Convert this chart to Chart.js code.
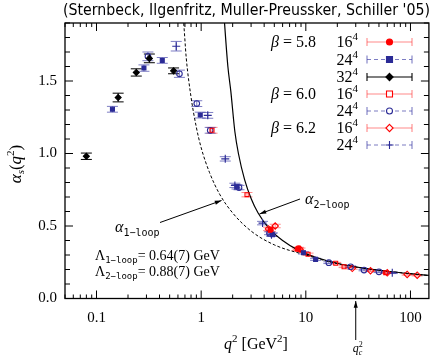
<!DOCTYPE html>
<html>
<head>
<meta charset="utf-8">
<script src="https://cdn.jsdelivr.net/npm/chart.js@4.4.0/dist/chart.umd.min.js"></script>
<style>
  html, body { margin: 0; padding: 0; background: #fff; }
  #wrap { width: 434px; height: 356px; }
</style>
</head>
<body>
<div id="wrap"><canvas id="alphaChart" width="434" height="356"></canvas></div>
<script>
// Lattice points: [q^2 (GeV^2), alpha_s, error]
const beta58L16 = [[4.6, 0.475, 0.012], [8.5, 0.345, 0.008]];
const beta58L24 = [[0.142, 1.305, 0.02], [0.284, 1.589, 0.022], [0.425, 1.642, 0.02], [0.98, 1.265, 0.02],
                   [2.2, 0.77, 0.015], [4.8, 0.44, 0.012], [9.5, 0.315, 0.008], [12.4, 0.27, 0.007]];
const beta58L32 = [[0.080, 0.981, 0.022], [0.161, 1.386, 0.03], [0.240, 1.559, 0.025], [0.32, 1.656, 0.03],
                   [0.545, 1.57, 0.02]];
const beta60L16 = [[1.27, 1.16, 0.02], [2.74, 0.716, 0.015], [8.3, 0.34, 0.008], [10.5, 0.305, 0.008],
                   [19.3, 0.243, 0.006], [23.2, 0.219, 0.006], [58, 0.178, 0.005]];
const beta60L24 = [[0.31, 1.67, 0.03], [0.62, 1.55, 0.025], [0.908, 1.344, 0.02], [1.22, 1.16, 0.02],
                   [2.3, 0.765, 0.015], [4.5, 0.45, 0.01], [16.6, 0.247, 0.006], [26.8, 0.219, 0.006],
                   [36, 0.196, 0.005], [50, 0.184, 0.005]];
const beta62L16 = [[5.1, 0.50, 0.012], [4.4, 0.48, 0.012], [8.8, 0.34, 0.008], [27.8, 0.208, 0.006],
                   [41.5, 0.191, 0.005], [60, 0.177, 0.005], [93, 0.166, 0.005], [116, 0.161, 0.005]];
const beta62L24 = [[0.578, 1.74, 0.033], [1.156, 1.263, 0.02], [1.70, 0.963, 0.015], [2.1, 0.78, 0.015],
                   [3.86, 0.52, 0.012], [4.7, 0.44, 0.01], [67, 0.177, 0.005]];

// perturbative curves
const oneLoopQ2 = [0.655, 0.678, 0.72, 0.8, 0.9, 1.0, 1.2, 1.5, 2, 3, 5, 10, 20, 50, 150];
const oneLoopAlpha = [2.0, 1.915, 1.66, 1.39, 1.18, 1.04, 0.87, 0.72, 0.59, 0.465, 0.37, 0.30, 0.24, 0.195, 0.158];
const twoLoopQ2 = [1.62, 1.667, 1.8, 1.92, 2.1, 2.27, 2.6, 3.0, 3.5, 4.5, 6, 8.6, 12, 20, 35, 60, 100, 150];
const twoLoopAlpha = [2.05, 1.915, 1.6, 1.43, 1.15, 1.0, 0.82, 0.69, 0.59, 0.48, 0.4, 0.33, 0.288, 0.243, 0.21, 0.188, 0.171, 0.159];

// axes
const xTickValues = [0.1, 1, 10, 100];
const xTickLabels = ['0.1', '1', '10', '100'];
const yTickValues = [0, 0.5, 1.0, 1.5];
const yTickLabels = ['0.0', '0.5', '1.0', '1.5'];
const qc2 = 30;

const RED = '#ff0000';
const RED_BAR = 'rgba(255, 60, 60, 0.6)';
const BLUE = '#2b2b96';
const BLUE_BAR = 'rgba(70, 70, 170, 0.7)';
const BLACK = '#000';

const SERIF = '"Liberation Serif", "DejaVu Serif", serif';
const MONO = '"DejaVu Sans Mono", "Liberation Mono", monospace';

function pts(arr) {
    return arr.map(p => ({ x: p[0], y: p[1] }));
}
function errs(arr) {
    return arr.map(p => p[2]);
}
function curve(xs, ys) {
    return xs.map((x, i) => ({ x: x, y: ys[i] }));
}

const series = [
    { data: beta58L16, style: 'circle', color: RED, fill: RED, bar: RED_BAR, r: 2.6 },
    { data: beta58L24, style: 'rect', color: BLUE, fill: BLUE, bar: BLUE_BAR, r: 2.8 },
    { data: beta58L32, style: 'rectRot', color: BLACK, fill: BLACK, bar: BLACK, r: 3 },
    { data: beta60L16, style: 'rect', color: RED, fill: 'rgba(255,255,255,0)', bar: RED_BAR, r: 2.8 },
    { data: beta60L24, style: 'circle', color: BLUE, fill: 'rgba(255,255,255,0)', bar: BLUE_BAR, r: 2.8 },
    { data: beta62L16, style: 'rectRot', color: RED, fill: 'rgba(255,255,255,0)', bar: RED_BAR, r: 3.2 },
    { data: beta62L24, style: 'cross', color: BLUE, fill: BLUE, bar: BLUE_BAR, r: 4 }
];

const datasets = series.map((s, i) => ({
    label: 'series' + i,
    data: pts(s.data),
    errors: errs(s.data),
    errColor: s.bar,
    pointStyle: s.style,
    pointRadius: s.r,
    pointBorderColor: s.color,
    pointBackgroundColor: s.fill,
    pointBorderWidth: 1.1,
    showLine: false,
    order: 1
}));

datasets.push({
    label: '1-loop',
    data: curve(oneLoopQ2, oneLoopAlpha),
    showLine: true,
    borderColor: BLACK,
    borderWidth: 1,
    borderDash: [3, 2],
    pointRadius: 0,
    cubicInterpolationMode: 'monotone',
    order: 10
});
datasets.push({
    label: '2-loop',
    data: curve(twoLoopQ2, twoLoopAlpha),
    showLine: true,
    borderColor: BLACK,
    borderWidth: 1.2,
    pointRadius: 0,
    cubicInterpolationMode: 'monotone',
    order: 10
});

// vertical error bars with caps, under the markers
const errorBars = {
    id: 'errorBars',
    beforeDatasetsDraw(chart) {
        const ctx = chart.ctx;
        const yScale = chart.scales.y;
        ctx.save();
        chart.data.datasets.forEach((ds, i) => {
            if (!ds.errors) return;
            const meta = chart.getDatasetMeta(i);
            ctx.strokeStyle = ds.errColor;
            ctx.lineWidth = 1;
            meta.data.forEach((el, j) => {
                const v = ds.data[j].y;
                const e = ds.errors[j];
                const top = yScale.getPixelForValue(v + e);
                const bot = yScale.getPixelForValue(v - e);
                const x = el.x;
                ctx.beginPath();
                ctx.moveTo(x, top); ctx.lineTo(x, bot);
                ctx.moveTo(x - 5.5, top); ctx.lineTo(x + 5.5, top);
                ctx.moveTo(x - 5.5, bot); ctx.lineTo(x + 5.5, bot);
                ctx.stroke();
            });
        });
        ctx.restore();
    }
};

function drawMarker(ctx, style, x, y, r, color, fill) {
    ctx.save();
    ctx.strokeStyle = color;
    ctx.fillStyle = fill;
    ctx.lineWidth = 1.1;
    ctx.beginPath();
    if (style === 'circle') {
        ctx.arc(x, y, r, 0, Math.PI * 2);
        ctx.fill(); ctx.stroke();
    } else if (style === 'rect') {
        ctx.rect(x - r, y - r, 2 * r, 2 * r);
        ctx.fill(); ctx.stroke();
    } else if (style === 'rectRot') {
        ctx.moveTo(x, y - r - 0.6); ctx.lineTo(x + r + 0.6, y); ctx.lineTo(x, y + r + 0.6); ctx.lineTo(x - r - 0.6, y);
        ctx.closePath();
        ctx.fill(); ctx.stroke();
    } else if (style === 'cross') {
        ctx.moveTo(x - r, y); ctx.lineTo(x + r, y);
        ctx.moveTo(x, y - r); ctx.lineTo(x, y + r);
        ctx.stroke();
    }
    ctx.restore();
}

// text with sub/superscript pieces: [text, font, dy]
function drawRuns(ctx, runs, x, y) {
    runs.forEach(run => {
        ctx.font = run[1];
        ctx.fillText(run[0], x, y + (run[2] || 0));
        x += ctx.measureText(run[0]).width;
    });
    return x;
}
function runsWidth(ctx, runs) {
    let w = 0;
    runs.forEach(run => { ctx.font = run[1]; w += ctx.measureText(run[0]).width; });
    return w;
}

function arrow(ctx, x0, y0, x1, y1) {
    const ang = Math.atan2(y1 - y0, x1 - x0);
    ctx.beginPath();
    ctx.moveTo(x0, y0); ctx.lineTo(x1, y1);
    ctx.stroke();
    ctx.beginPath();
    ctx.moveTo(x1, y1);
    ctx.lineTo(x1 - 7 * Math.cos(ang - 0.3), y1 - 7 * Math.sin(ang - 0.3));
    ctx.lineTo(x1 - 7 * Math.cos(ang + 0.3), y1 - 7 * Math.sin(ang + 0.3));
    ctx.closePath();
    ctx.fill();
}

const frameAndText = {
    id: 'frameAndText',
    beforeDraw(chart) {
        const ctx = chart.ctx;
        ctx.save();
        ctx.fillStyle = '#fff';
        ctx.fillRect(0, 0, chart.width, chart.height);
        ctx.restore();
    },
    afterDraw(chart) {
        const ctx = chart.ctx;
        const area = chart.chartArea;
        const xs = chart.scales.x;
        const ys = chart.scales.y;
        ctx.save();
        ctx.strokeStyle = '#000';
        ctx.fillStyle = '#000';

        // frame
        ctx.lineWidth = 1.3;
        ctx.strokeRect(area.left, area.top, area.right - area.left, area.bottom - area.top);

        // x ticks (inward, mirrored)
        ctx.lineWidth = 1;
        ctx.beginPath();
        for (let d = 0.01; d < 1000; d *= 10) {
            for (let m = 1; m <= 9; m++) {
                const v = m * d;
                if (v < xs.min || v > xs.max) continue;
                const px = xs.getPixelForValue(v);
                const len = m === 1 ? 8 : 4;
                ctx.moveTo(px, area.bottom); ctx.lineTo(px, area.bottom - len);
                ctx.moveTo(px, area.top); ctx.lineTo(px, area.top + len);
            }
        }
        // y ticks
        for (let k = 0; k <= 19; k++) {
            const v = k / 10;
            if (v > ys.max + 1e-9) continue;
            const py = ys.getPixelForValue(v);
            const len = k % 5 === 0 ? 8 : 5;
            ctx.moveTo(area.left, py); ctx.lineTo(area.left + len, py);
            ctx.moveTo(area.right, py); ctx.lineTo(area.right - len, py);
        }
        ctx.stroke();

        // tick labels
        ctx.font = '15px ' + SERIF;
        ctx.textAlign = 'center';
        ctx.textBaseline = 'middle';
        xTickValues.forEach((v, i) => {
            ctx.fillText(xTickLabels[i], xs.getPixelForValue(v), 318);
        });
        ctx.textAlign = 'right';
        yTickValues.forEach((v, i) => {
            ctx.fillText(yTickLabels[i], 57, ys.getPixelForValue(v));
        });

        // axis titles
        ctx.textAlign = 'left';
        ctx.textBaseline = 'alphabetic';
        const xTitle = [['q', 'italic 16px ' + SERIF], ['2', '11px ' + SERIF, -7], [' [GeV', '16px ' + SERIF], ['2', '11px ' + SERIF, -7], [']', '16px ' + SERIF]];
        drawRuns(ctx, xTitle, 256 - runsWidth(ctx, xTitle) / 2, 349);

        ctx.save();
        ctx.translate(21, 164);
        ctx.rotate(-Math.PI / 2);
        const yTitle = [['α', 'italic 17px ' + SERIF], ['s', 'italic 11px ' + SERIF, 3], ['(', '17px ' + SERIF], ['q', 'italic 17px ' + SERIF], ['2', '11px ' + SERIF, -7], [')', '17px ' + SERIF]];
        drawRuns(ctx, yTitle, -runsWidth(ctx, yTitle) / 2, 0);
        ctx.restore();

        // title
        ctx.font = '15px "DejaVu Sans", sans-serif';
        const title = "(Sternbeck, Ilgenfritz, Muller-Preussker, Schiller '05)";
        const tw = ctx.measureText(title).width;
        ctx.save();
        ctx.translate(63, 15);
        ctx.scale(367 / tw, 1);
        ctx.fillText(title, 0, 0);
        ctx.restore();

        // in-plot legend
        const rows = [42, 59.5, 77, 94, 111, 128, 145];
        const sizeRuns = ['16', '24', '32', '16', '24', '16', '24'];
        const betas = { 0: '5.8', 3: '6.0', 5: '6.2' };
        rows.forEach((ry, i) => {
            const s = series[i];
            const base = ry + 5;
            const sr = [[sizeRuns[i], '16px ' + SERIF], ['4', '11px ' + SERIF, -7]];
            ctx.fillStyle = '#000';
            drawRuns(ctx, sr, 358 - runsWidth(ctx, sr), base);
            if (betas[i]) {
                const br = [['β', 'italic 16px ' + SERIF], [' = ' + betas[i], '16px ' + SERIF]];
                drawRuns(ctx, br, 316 - runsWidth(ctx, br), base);
            }
            const dashed = s.color === BLUE;
            ctx.strokeStyle = s.bar;
            ctx.lineWidth = 1.1;
            ctx.setLineDash(dashed ? [4, 3] : []);
            ctx.beginPath();
            ctx.moveTo(367, ry); ctx.lineTo(412, ry);
            ctx.stroke();
            ctx.setLineDash([]);
            ctx.beginPath();
            ctx.moveTo(367, ry - 4); ctx.lineTo(367, ry + 4);
            ctx.moveTo(412, ry - 4); ctx.lineTo(412, ry + 4);
            ctx.stroke();
            const fill = s.fill.indexOf('rgba(255,255,255') === 0 ? '#fff' : s.fill;
            drawMarker(ctx, s.style, 389.5, ry, s.style === 'cross' ? 4 : 3, s.color, fill);
        });

        // curve labels with arrows
        ctx.fillStyle = '#000';
        ctx.strokeStyle = '#000';
        ctx.lineWidth = 1;
        const a1 = [['α', 'italic 16px ' + SERIF], ['1−loop', '10px ' + MONO, 4]];
        drawRuns(ctx, a1, 115, 232);
        arrow(ctx, 160, 222.5, 221.5, 200.5);
        const a2 = [['α', 'italic 16px ' + SERIF], ['2−loop', '10px ' + MONO, 4]];
        drawRuns(ctx, a2, 305, 204);
        arrow(ctx, 300, 199, 259.5, 214);

        // Lambda values
        const l1 = [['Λ', '14px ' + SERIF], ['1−loop', '9px ' + MONO, 3], ['= 0.64(7) GeV', '14px ' + SERIF]];
        const l2 = [['Λ', '14px ' + SERIF], ['2−loop', '9px ' + MONO, 3], ['= 0.88(7) GeV', '14px ' + SERIF]];
        drawRuns(ctx, l1, 95, 260);
        drawRuns(ctx, l2, 95, 276);

        // q_c^2 marker below the axis
        const qx = xs.getPixelForValue(qc2);
        arrow(ctx, qx, 340, qx, 301);
        ctx.font = 'italic 12px ' + SERIF;
        const qw = ctx.measureText('q').width;
        ctx.fillText('q', qx - 3, 352);
        ctx.font = '8px ' + SERIF;
        ctx.fillText('2', qx - 3 + qw, 347);
        ctx.font = 'italic 8px ' + SERIF;
        ctx.fillText('c', qx - 3 + qw, 355);

        ctx.restore();
    }
};

const ctx = document.getElementById('alphaChart').getContext('2d');
new Chart(ctx, {
    type: 'scatter',
    data: { datasets: datasets },
    options: {
        responsive: false,
        animation: false,
        layout: { padding: { left: 65, right: 4.5, top: 23, bottom: 57.5 } },
        scales: {
            x: { type: 'logarithmic', min: 0.05, max: 150, display: false },
            y: { type: 'linear', min: 0, max: 1.9, display: false }
        },
        plugins: {
            legend: { display: false },
            tooltip: { enabled: false }
        }
    },
    plugins: [errorBars, frameAndText]
});
</script>
</body>
</html>
